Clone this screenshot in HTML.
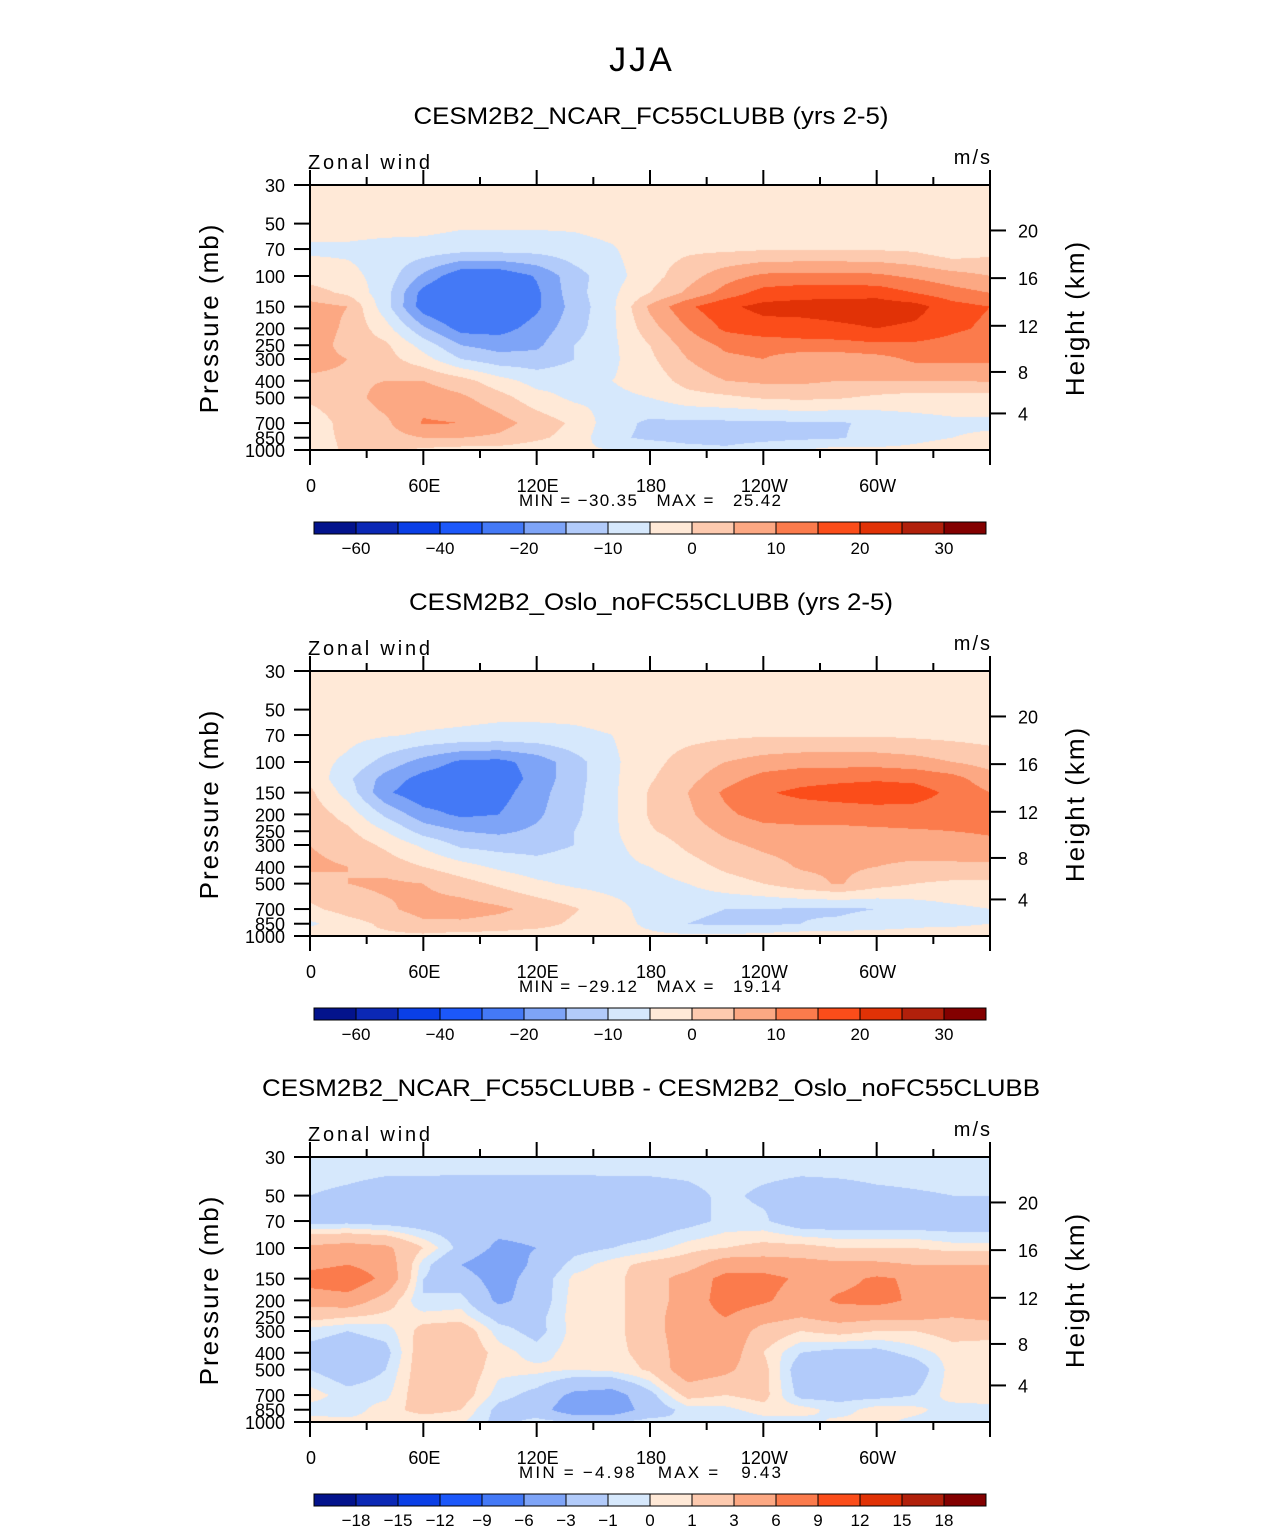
<!DOCTYPE html>
<html><head><meta charset="utf-8">
<style>
html,body{margin:0;padding:0;background:#fff;}
#root{position:relative;width:1285px;height:1531px;overflow:hidden;background:#fff;font-family:"Liberation Sans",sans-serif;}
canvas{position:absolute;}
svg{position:absolute;left:0;top:0;}
</style></head>
<body>
<div id="root">
<canvas id="c0" width="680" height="265" style="left:310px;top:185px"></canvas>
<canvas id="c1" width="680" height="265" style="left:310px;top:671px"></canvas>
<canvas id="c2" width="680" height="265" style="left:310px;top:1157px"></canvas>
<svg id="ov" width="1285" height="1531"></svg>
</div>
<script>
const PRESSURES=[30,50,70,100,125,150,200,250,300,400,500,700,850,1000];
const LONS=[0,20,40,60,80,100,120,140,160,180,200,220,240,260,280,300,320,340,360];
const LEVELS_ABS=[-60,-50,-40,-30,-20,-15,-10,-5,0,5,10,15,20,25,30];
const LEVELS_DIFF=[-18,-15,-12,-9,-6,-3,-1,0,1,3,6,9,12,15,18];
const LABELS_ABS=["-60","","-40","","-20","","-10","","0","","10","","20","","30"];
const LABELS_DIFF=["-18","-15","-12","-9","-6","-3","-1","0","1","3","6","9","12","15","18"];
const COLORS=["#03138c","#0b28b5","#0a3fe6","#1c58fa","#4479f6","#7ea4f7","#b2cbfa","#d6e8fc","#ffe9d7","#fdcaaf","#fca883","#fb7b4c","#fb4d1a","#e13206","#b1200b","#830000"];
const P_TICKS=[30,50,70,100,150,200,250,300,400,500,700,850,1000];
const H_TICKS=[20,16,12,8,4];
const X_TICKS=[0,60,120,180,240,300];
const X_LABELS=["0","60E","120E","180","120W","60W"];
const TITLES=["CESM2B2_NCAR_FC55CLUBB (yrs 2-5)","CESM2B2_Oslo_noFC55CLUBB (yrs 2-5)","CESM2B2_NCAR_FC55CLUBB - CESM2B2_Oslo_noFC55CLUBB"];
const TITLE_LEN=[475,484,778];
const MINMAX=[["-30.35","25.42"],["-29.12","19.14"],["-4.98","9.43"]];

const P1_VALUES=[
[-2.5,-2.5,-2.5,-2.5,-2.5,-2.5,-2.5,-2.5,-2.5,-2.5,-2.5,-2.5,-2.5,-2.5,-2.5,-2.5,-2.5,-2.5,-2.5],
[-2.5,-2.5,-2.5,-3,-4,-4,-4,-4,-3,-2.5,-2.5,-2.5,-2.5,-2.5,-2.5,-2.5,-2.5,-2.5,-2.5],
[-6,-6,-7,-7,-8,-8,-8,-7,-5.5,-2,-1,-1,-0.5,-0.5,-0.5,-0.5,-1,-4,-2],
[-2,-3.5,-7,-16,-24,-24,-19.5,-12,-7,-2,3,8,11,11.5,11.5,11,9,7,5],
[2,-1,-8,-22,-29,-27,-21,-12,-6,0,6,12,17,18,18,18,15,12,10],
[7,5,-8,-23,-28,-26,-21,-13,-6,6,14,19,21.5,22,22.5,23,22,17,15],
[8,4,-3,-14,-22,-22,-18,-12,-6,3,10,16,18,18,19,20,19,16,14],
[8,3,1,-7,-15,-17,-16,-10,-6,0,7,11,12,13,13,14,14,13,12],
[7,5,2,-3,-10,-13,-13,-10,-6,-1,5,9,10,7,7,8,11,11,11],
[4,4,5,5,2,-3,-7,-7,-5,-3,2,5,6,6,5,5,5,5,5.5],
[1,3,7,8,6,2,-3,-6,-6,-5,-2,-1,0.5,1,0.5,-1,-2,-2,-2],
[-3,2,4,10.5,10,7,3,-1,-8,-11,-11,-11,-11,-10.5,-10.5,-9,-7,-6,-6],
[-2,1,3,5,5,4,1,-2,-9,-11,-12,-12,-11.5,-11,-10.5,-8,-6,-5,-4],
[-3,1,1,-1,-2,-2,-3,-4,-5,-6,-8,-9,-7,-5,-3,-4,-4,-3,0]];

const P2_VALUES=[
[-2,-2,-2,-2,-2,-2,-2,-2,-2,-2,-2,-2,-2,-2,-2,-2,-2,-2,-2],
[-2.5,-2.5,-2.5,-2.5,-3,-3.5,-3.5,-3.5,-3,-2.5,-2.5,-2.5,-2.5,-2.5,-2.5,-2.5,-2.5,-2.5,-2.5],
[-3,-3.5,-4.5,-5.5,-6,-6.5,-6.5,-6,-5,-2,-1.5,-1,-0.5,-0.5,-0.5,-0.5,-1,-1.5,-2],
[-3,-6,-12,-17,-21,-21.5,-18,-12,-6,-1.5,2,5,7,8,8,8,7,5,3],
[-1,-9,-17,-22,-24,-23.5,-18,-12,-6,-0.5,3.5,8,12,13.5,14,14.5,14,12,7],
[1,-7,-19,-24,-24,-22,-17,-11.5,-6,0.5,5,11,14.5,16,17,17.5,17,14,10],
[3,-2,-11,-18,-21,-20,-16,-11,-6,0.5,4,9,12,12.5,12.5,13,13,12.5,11],
[4,1,-5,-12,-15,-16,-14,-10,-6,-0.5,2.5,6,8,8.5,8.5,9,9.5,10,10.5],
[5,3,-1,-6,-11,-12,-12,-10,-6,-3,1,4,6,7,7,7,7.5,8,9],
[6,5,3,0,-3,-6,-8,-7,-6,-5,-2,1,3,5.5,6,5,4,4,4],
[3,5,6,5,2,-1,-4,-6,-7,-7,-5,-2,0,3,5.5,2,0,-1,-1],
[-1,2,4,7,7.5,6,3.5,0.5,-3,-7,-9,-10,-10,-10.5,-11,-10,-8,-6,-5],
[-6,-2,1,4,4,3,2,-1,-3,-6,-10,-11,-11,-10,-9,-7,-6,-6,-5],
[-2,0,-1,-1,-2,-2,-3,-3,-4,-4,-4,-4,-3,-2,-2,-3,-3,-2,-2]];

const P3_VALUES=[
[-0.5,-0.5,-0.5,-0.5,-0.5,-0.5,-0.5,-0.5,-0.5,-0.5,-0.5,-0.5,-0.5,-0.5,-0.5,-0.5,-0.5,-0.5,-0.5],
[-1,-1.2,-1.5,-1.5,-1.6,-1.6,-1.6,-1.6,-1.5,-1.5,-1.3,-0.8,-1.2,-1.5,-1.4,-1.2,-1.1,-1,-1],
[-1.5,-1.5,-1.8,-2,-2,-2,-2,-2,-2,-2,-1.5,-0.7,-0.8,-2,-2,-2,-2,-2,-2],
[3.5,4,3.5,1,-1.5,-3.5,-3,-1.5,-1,-0.5,0.5,1,1.5,1.5,1,1,1,0.5,0.5],
[5,6,4.5,-0.5,-3,-4.5,-2.5,-0.5,0.5,1.5,2,4.5,4.5,4,3.5,3.5,3,3,3],
[7.5,8.5,5,-1,-2,-4,-2,0.3,0.5,2,4,7,7,5.5,5,6.5,5.5,4.5,4.5],
[4,4.5,2,-1,-0.5,-3.5,-2,0.5,0.5,2,4,7.5,6.5,4.5,6.5,7,5.5,4.5,4],
[1.5,1,0.5,0.5,0.5,-1.5,-1.5,0.5,0.5,2,4.5,6,4,3,4,3.5,3.5,3,3.5],
[-0.5,-1,-0.5,1.5,2,-0.5,-1.5,0.4,0.5,2,4.5,5,2,1,1.5,1,1,1.5,1.5],
[-1.5,-2,-1.5,2,2.2,0.5,-0.5,0.5,0.6,1.5,4.5,4.5,1,-1,-1.5,-1.5,-0.5,0.5,0.3],
[-1,-2,-1,2,2,0.3,0.3,0,0.3,1.2,4.5,3.5,1.5,-2,-2,-3,-2,0.5,0.5],
[0.5,-0.5,-0.3,2,1.8,-0.5,-1.5,-3.5,-4,-1.5,1.5,1,1.5,-1.5,-1.5,-1.5,-1,0.5,0.5],
[-0.5,-0.5,0.5,1.5,1,-1.5,-2,-4.5,-4.5,-2,-0.5,-0.3,0.5,0.5,-0.5,0.5,0.3,-0.5,-0.3],
[0.5,0.3,0.3,0.2,0.2,-1.5,-0.5,-1,-1,-0.5,-1,-1,-0.5,-0.5,0.3,0.3,-0.3,-0.5,-0.5]];

const PANEL_TOPS=[185,671,1157];
const PLOT_L=310, PLOT_W=680, PLOT_H=265;
function yOfP(p,top){return top+PLOT_H*Math.log(p/30)/Math.log(1000/30);}
function xOfLon(lon){return PLOT_L+lon/360*PLOT_W;}
function pOfH(km){const z=km*1000;return z<=11000?1013.25*Math.pow(1-0.0065*z/288.15,5.2559):226.32*Math.exp(-(z-11000)/6341.6);}
function hexRgb(h){return [parseInt(h.slice(1,3),16),parseInt(h.slice(3,5),16),parseInt(h.slice(5,7),16)];}
const RGB=COLORS.map(hexRgb);
function binOf(v,levels){let i=0;while(i<levels.length&&v>=levels[i])i++;return i;}

function drawField(canvasId,values,levels){
  const cv=document.getElementById(canvasId),ctx=cv.getContext('2d');
  const img=ctx.createImageData(PLOT_W,PLOT_H);
  const rowY=PRESSURES.map(p=>yOfP(p,0));
  const colX=LONS.map(l=>xOfLon(l)-PLOT_L);
  for(let py=0;py<PLOT_H;py++){
    const y=py+0.5;let r=0;
    while(r<rowY.length-2&&y>rowY[r+1])r++;
    const ty=Math.min(1,Math.max(0,(y-rowY[r])/(rowY[r+1]-rowY[r])));
    for(let px=0;px<PLOT_W;px++){
      const x=px+0.5;let c=0;
      while(c<colX.length-2&&x>colX[c+1])c++;
      const tx=(x-colX[c])/(colX[c+1]-colX[c]);
      const a=values[r][c]*(1-tx)+values[r][c+1]*tx;
      const b=values[r+1][c]*(1-tx)+values[r+1][c+1]*tx;
      const v=a*(1-ty)+b*ty;
      const col=RGB[binOf(v,levels)];
      const k=(py*PLOT_W+px)*4;
      img.data[k]=col[0];img.data[k+1]=col[1];img.data[k+2]=col[2];img.data[k+3]=255;
    }
  }
  ctx.putImageData(img,0,0);
}
drawField('c0',P1_VALUES,LEVELS_ABS);
drawField('c1',P2_VALUES,LEVELS_ABS);
drawField('c2',P3_VALUES,LEVELS_DIFF);

const NS="http://www.w3.org/2000/svg";
const ov=document.getElementById('ov');
function mk(tag,attrs,parent){const e=document.createElementNS(NS,tag);for(const k in attrs)e.setAttribute(k,attrs[k]);(parent||ov).appendChild(e);return e;}
function txt(s,x,y,size,anchor,parent){const t=mk('text',{x:x,y:y,'font-size':size,'text-anchor':anchor||'middle','font-family':'Liberation Sans, sans-serif',fill:'#000'},parent);t.textContent=s;return t;}

const sup=txt("JJA",642,71,34,'middle');
sup.setAttribute('letter-spacing','3');



for(let k=0;k<3;k++){
  const T=PANEL_TOPS[k],off=T-185;
  const g=mk('g',{});
  
  
  const tt=txt(TITLES[k],651,124+off,24,'middle',g);
  tt.setAttribute('textLength',TITLE_LEN[k]);
  tt.setAttribute('lengthAdjust','spacingAndGlyphs');
  
  
  const lz=txt("Zonal wind",308,169+off,20,'start',g);
  lz.setAttribute('textLength','122');
  
  
  const lu=txt("m/s",992,164+off,20,'end',g);
  lu.setAttribute('letter-spacing','2');
  
  
  const box=mk('rect',{x:PLOT_L,y:T,width:PLOT_W,height:PLOT_H,fill:'none',stroke:'#000','stroke-width':2},g);
  
  
  P_TICKS.forEach(p=>{
    const y=yOfP(p,T);
    mk('line',{x1:294,x2:PLOT_L,y1:y,y2:y,stroke:'#000','stroke-width':2},g);
    const l=txt(String(p),285,y+7,18,'end',g);
    
    
  });
  H_TICKS.forEach(h=>{
    const y=yOfP(pOfH(h),T);
    mk('line',{x1:990,x2:1006,y1:y,y2:y,stroke:'#000','stroke-width':2},g);
    const l=txt(String(h),1018,y+7,18,'start',g);
    
    
  });
  for(let lon=0;lon<=360;lon+=30){
    const x=xOfLon(lon),major=lon%60===0,len=major?15:8;
    mk('line',{x1:x,x2:x,y1:T-len,y2:T,stroke:'#000','stroke-width':2},g);
    mk('line',{x1:x,x2:x,y1:T+PLOT_H,y2:T+PLOT_H+len,stroke:'#000','stroke-width':2},g);
  }
  X_TICKS.forEach((lon,i)=>{
    const l=txt(X_LABELS[i],xOfLon(lon)+1,T+307,18,'middle',g);
    
    
  });
  const yt=txt("Pressure (mb)",0,0,26,'middle',g);
  yt.setAttribute('transform','translate(218,'+(T+133)+') rotate(-90)');
  yt.setAttribute('letter-spacing','2');
  
  
  const ht=txt("Height (km)",0,0,26,'middle',g);
  ht.setAttribute('transform','translate(1084,'+(T+133)+') rotate(-90)');
  ht.setAttribute('letter-spacing','2');
  
  
  const mm=txt("MIN = "+MINMAX[k][0].replace('-','\u2212')+"   MAX =   "+MINMAX[k][1],650,T+321,17,'middle',g);
  mm.setAttribute('xml:space','preserve');
  mm.style.whiteSpace='pre';
  mm.setAttribute('textLength','262');
  
  
  const cb=mk('g',{},g);
  
  
  const cy=T+337;
  COLORS.forEach((c,i)=>{
    const r=mk('rect',{x:314+42*i,y:cy,width:42,height:12,fill:c,stroke:'#000','stroke-width':1},cb);
    
    
  });
  const labs=k<2?LABELS_ABS:LABELS_DIFF;
  labs.forEach((s,i)=>{
    if(!s)return;
    const l=txt(s.replace('-','\u2212'),356+42*i,cy+32,17,'middle',cb);
    
    
  });
}
</script>
</body></html>
